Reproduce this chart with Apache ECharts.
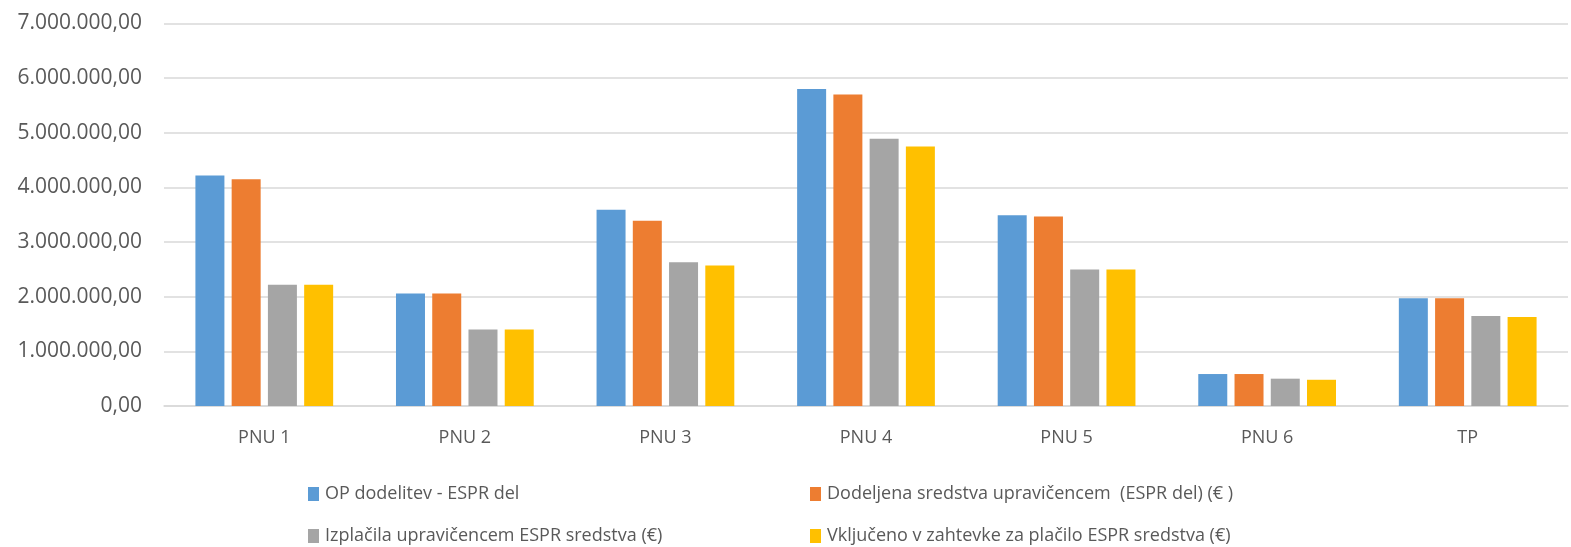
<!DOCTYPE html>
<html>
<head>
<meta charset="utf-8">
<script src="https://cdn.jsdelivr.net/npm/echarts@6/dist/echarts.min.js"></script>
<style>
html,body{margin:0;padding:0;background:#fff;}
#c{width:1571px;height:547px;}
</style>
</head>
<body>
<div id="c"></div>
<script>
const categories = ['PNU 1','PNU 2','PNU 3','PNU 4','PNU 5','PNU 6','TP'];
const seriesNames = [
  'OP dodelitev - ESPR del',
  'Dodeljena sredstva upravičencem  (ESPR del) (€ )',
  'Izplačila upravičencem ESPR sredstva (€)',
  'Vključeno v zahtevke za plačilo ESPR sredstva (€)'
];
const opDodelitev = [4220000, 2060000, 3590000, 5800000, 3490000, 585000, 1970000];
const dodeljena   = [4150000, 2060000, 3390000, 5700000, 3470000, 585000, 1970000];
const izplacila   = [2220000, 1400000, 2630000, 4890000, 2500000, 500000, 1645000];
const vkljuceno   = [2220000, 1400000, 2570000, 4750000, 2500000, 480000, 1630000];
const colors = ['#5b9bd5', '#ed7d31', '#a5a5a5', '#ffc000'];

function fmt(v){
  const s = Math.round(v).toString().replace(/\B(?=(\d{3})+(?!\d))/g, '.');
  return s + ',00';
}

const chart = echarts.init(document.getElementById('c'));
const dataArr = [opDodelitev, dodeljena, izplacila, vkljuceno];
const font = '"Open Sans", "Noto Sans", sans-serif';
const legendPos = [[303, 480], [805, 480], [303, 522], [805, 522]];

chart.setOption({
  animation: false,
  color: colors,
  textStyle: {fontFamily: font},
  grid: {left: 164, right: 3, top: 23.5, bottom: 141, containLabel: false},
  legend: seriesNames.map((n, i) => ({
    data: [n],
    left: legendPos[i][0],
    top: legendPos[i][1],
    icon: 'rect',
    itemWidth: 11,
    itemHeight: 14,
    itemGap: 4,
    textStyle: {color: '#595959', fontSize: 18, fontFamily: font, padding: [0, 0, 0, 1]}
  })),
  xAxis: {
    type: 'category',
    data: categories,
    axisTick: {show: false},
    axisLine: {lineStyle: {color: '#d9d9d9', width: 1.5}},
    axisLabel: {color: '#595959', fontSize: 18, margin: 23, fontFamily: font}
  },
  yAxis: {
    type: 'value',
    min: 0, max: 7000000, interval: 1000000,
    axisLine: {show: false},
    axisTick: {show: false},
    splitLine: {lineStyle: {color: '#d9d9d9', width: 1.5}},
    axisLabel: {color: '#595959', fontSize: 21, margin: 22, fontFamily: font, formatter: fmt}
  },
  series: seriesNames.map((n, i) => ({
    name: n,
    type: 'bar',
    data: dataArr[i],
    barWidth: 29,
    barGap: '25%',
    itemStyle: {color: colors[i]}
  }))
});
</script>
</body>
</html>
